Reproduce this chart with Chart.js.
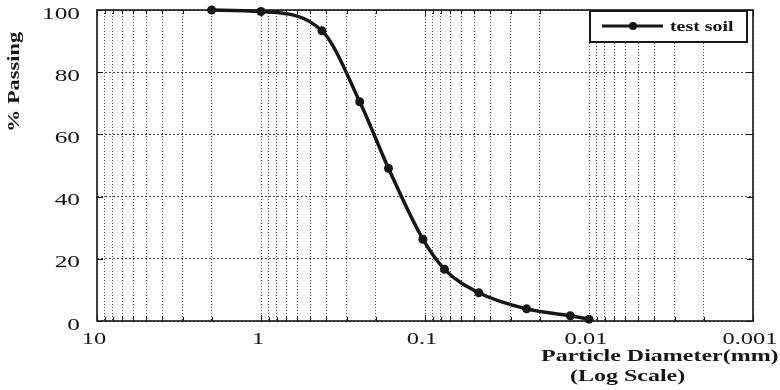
<!DOCTYPE html>
<html>
<head>
<meta charset="utf-8">
<title>Grain size distribution</title>
<script src="https://cdn.jsdelivr.net/npm/chart.js@4.4.1/dist/chart.umd.min.js"></script>
<style>
    html, body { margin: 0; padding: 0; background: #fff; }
    #wrap { width: 780px; height: 390px; }
</style>
</head>
<body>
<div id="wrap"><canvas id="gradingChart" width="780" height="390"></canvas></div>
<script>
// sieve + hydrometer results
const diameters = [2.0, 1.0, 0.425, 0.25, 0.167, 0.103, 0.076, 0.047, 0.024, 0.013, 0.010];
const passing = [100, 99.5, 93.3, 70.5, 49.1, 26.3, 16.6, 9.1, 3.9, 1.7, 0.6];
const seriesName = 'test soil';

const xTickValues = [10, 1, 0.1, 0.01, 0.001];
const xTickLabels = ['10', '1', '0.1', '0.01', '0.001'];
const yTickValues = [0, 20, 40, 60, 80, 100];
const yTickLabels = ['0', '20', '40', '60', '80', '100'];

const xTitle = ['Particle Diameter(mm)', '(Log Scale)'];
const yTitle = '% Passing';

const serif = "'Liberation Serif', 'DejaVu Serif', serif";
const ink = '#161616';

// grid lines at every 1..9 step of each decade
const gridValues = [];
for (let e = -3; e < 1; e++) {
    for (let m = 1; m < 10; m++) {
        gridValues.push(m * Math.pow(10, e));
    }
}
gridValues.push(10);

function isDecade(v) {
    const l = Math.log10(v);
    return Math.abs(l - Math.round(l)) < 1e-9;
}

// the original figure uses wide lettering, so text is stretched along its line
function wideText(ctx, text, x, y, align, stretch) {
    ctx.save();
    ctx.translate(x, y);
    ctx.scale(stretch, 1);
    ctx.textAlign = align;
    ctx.fillText(text, 0, 0);
    ctx.restore();
}

const framePlugin = {
    id: 'frame',
    afterDraw(chart) {
        const ctx = chart.ctx;
        const area = chart.chartArea;
        const xs = chart.scales.x;
        const ys = chart.scales.y;

        ctx.save();
        ctx.strokeStyle = ink;
        ctx.lineWidth = 1;

        // short inward tick marks on all four sides
        xs.ticks.forEach(t => {
            const px = Math.round(xs.getPixelForValue(t.value)) + 0.5;
            const len = isDecade(t.value) ? 6 : 4;
            ctx.beginPath();
            ctx.moveTo(px, area.bottom);
            ctx.lineTo(px, area.bottom - len);
            ctx.moveTo(px, area.top);
            ctx.lineTo(px, area.top + len);
            ctx.stroke();
        });
        yTickValues.forEach(v => {
            const py = Math.round(ys.getPixelForValue(v)) + 0.5;
            ctx.beginPath();
            ctx.moveTo(area.left, py);
            ctx.lineTo(area.left + 6, py);
            ctx.moveTo(area.right, py);
            ctx.lineTo(area.right - 6, py);
            ctx.stroke();
        });

        ctx.lineWidth = 1.6;
        ctx.strokeRect(area.left, area.top, area.right - area.left, area.bottom - area.top);

        // tick labels
        ctx.fillStyle = ink;
        ctx.textBaseline = 'alphabetic';
        ctx.font = '17.5px ' + serif;
        yTickValues.forEach((v, i) => {
            wideText(ctx, yTickLabels[i], area.left - 17, ys.getPixelForValue(v) + 8.5, 'right', 1.45);
        });
        xTickValues.forEach((v, i) => {
            wideText(ctx, xTickLabels[i], xs.getPixelForValue(v) - 3, area.bottom + 23, 'center', 1.4);
        });

        // axis titles
        ctx.font = 'bold 17.5px ' + serif;
        wideText(ctx, xTitle[0], area.right - 212, area.bottom + 40, 'left', 1.37);
        wideText(ctx, xTitle[1], area.right - 183, area.bottom + 60, 'left', 1.37);

        ctx.save();
        ctx.font = 'bold 16px ' + serif;
        ctx.translate(18.5, area.top + 72);
        ctx.rotate(-Math.PI / 2);
        wideText(ctx, yTitle, 0, 0, 'center', 1.4);
        ctx.restore();

        // legend box, top right
        const ds = chart.data.datasets[0];
        const bx = area.right - 163;
        const by = area.top + 1;
        ctx.fillStyle = '#fff';
        ctx.fillRect(bx, by, 157, 31);
        ctx.lineWidth = 2;
        ctx.strokeRect(bx, by, 157, 31);
        ctx.strokeStyle = ds.borderColor;
        ctx.lineWidth = 3;
        ctx.beginPath();
        ctx.moveTo(bx + 12, by + 15);
        ctx.lineTo(bx + 73, by + 15);
        ctx.stroke();
        ctx.fillStyle = ds.pointBackgroundColor;
        ctx.beginPath();
        ctx.arc(bx + 43, by + 15, 4, 0, Math.PI * 2);
        ctx.fill();
        ctx.fillStyle = ink;
        ctx.font = 'bold 14.5px ' + serif;
        wideText(ctx, ds.label, bx + 80, by + 20, 'left', 1.37);

        ctx.restore();
    }
};

const gradingChart = new Chart(document.getElementById('gradingChart'), {
    type: 'line',
    data: {
        datasets: [{
            label: seriesName,
            data: diameters.map((d, i) => ({ x: d, y: passing[i] })),
            borderColor: ink,
            backgroundColor: ink,
            borderWidth: 3.5,
            pointRadius: 4.5,
            pointBackgroundColor: ink,
            pointBorderWidth: 0,
            cubicInterpolationMode: 'monotone',
            clip: false
        }]
    },
    options: {
        responsive: false,
        animation: false,
        layout: { padding: { top: 10, right: 27, left: 0, bottom: 0 } },
        plugins: {
            legend: { display: false },
            tooltip: { enabled: false }
        },
        scales: {
            x: {
                type: 'logarithmic',
                reverse: true,
                min: 0.001,
                max: 10,
                afterBuildTicks: scale => {
                    scale.ticks = gridValues.map(v => ({ value: v }));
                },
                afterFit: scale => { scale.height = 69; },
                ticks: { display: false },
                grid: { color: '#444', lineWidth: 1, drawTicks: false },
                border: { display: false, dash: [1, 2] }
            },
            y: {
                min: 0,
                max: 100,
                ticks: { display: false, stepSize: 20 },
                afterFit: scale => { scale.width = 97; },
                grid: { color: '#444', lineWidth: 1, drawTicks: false },
                border: { display: false, dash: [2, 2] }
            }
        }
    },
    plugins: [framePlugin]
});
</script>
</body>
</html>
